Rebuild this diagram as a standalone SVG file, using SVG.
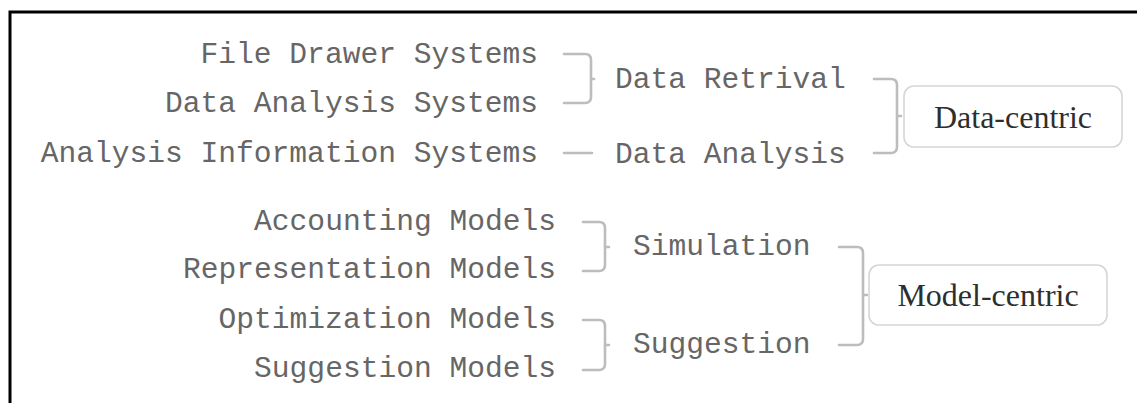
<svg xmlns="http://www.w3.org/2000/svg" width="1137" height="403" viewBox="0 0 1137 403">
  <defs>
    <style>
      .mono { font-family: "Liberation Mono", "Courier New", monospace; font-size: 29.6px; fill: #666; }
      .end { text-anchor: end; }
      .hub { font-family: "Liberation Serif", "Times New Roman", serif; font-size: 32px; fill: #2e2e2e; text-anchor: middle; }
      .box { fill: #fff; stroke: #d6d6d6; stroke-width: 1.6; }
      .brace { fill: none; stroke: #bdbdbd; stroke-width: 2.6; stroke-linecap: round; stroke-linejoin: round; }
      .frame { fill: none; stroke: #000; stroke-width: 3; }
    </style>
  </defs>

  <rect x="0" y="0" width="1137" height="403" fill="#fff"/>
  <!-- open frame: top and left edges only -->
  <path class="frame" d="M10,403 V12 H1137"/>

  <!-- connectors -->
  <g id="connectors">
    <!-- File Drawer / Data Analysis Systems -> Data Retrival -->
    <path class="brace" d="M564,54 H585 Q591,54 591,60 V97 Q591,103 585,103 H564 M591,79 H594"/>
    <!-- Analysis Information Systems -> Data Analysis -->
    <path class="brace" d="M564,153 H592"/>
    <!-- Data Retrival / Data Analysis -> Data-centric -->
    <path class="brace" d="M874,79 H891 Q897,79 897,85 V147 Q897,153 891,153 H874 M897,116 H901"/>
    <!-- Accounting / Representation Models -> Simulation -->
    <path class="brace" d="M583,222 H599 Q605,222 605,228 V265 Q605,271 599,271 H583 M605,247 H609"/>
    <!-- Optimization / Suggestion Models -> Suggestion -->
    <path class="brace" d="M583,320 H599 Q605,320 605,326 V364 Q605,370 599,370 H583 M605,345 H609"/>
    <!-- Simulation / Suggestion -> Model-centric -->
    <path class="brace" d="M839,247 H857 Q863,247 863,253 V339 Q863,345 857,345 H839 M863,295 H867"/>
  </g>

  <!-- data-centric branch -->
  <g id="file-drawer-systems"><text class="mono end" x="538" y="63">File Drawer Systems</text></g>
  <g id="data-analysis-systems"><text class="mono end" x="538" y="112">Data Analysis Systems</text></g>
  <g id="analysis-information-systems"><text class="mono end" x="538" y="162">Analysis Information Systems</text></g>
  <g id="data-retrival"><text class="mono" x="615" y="88">Data Retrival</text></g>
  <g id="data-analysis"><text class="mono" x="615" y="163">Data Analysis</text></g>
  <g id="data-centric">
    <rect class="box" x="904" y="86" width="218" height="61" rx="10"/>
    <text class="hub" x="1013" y="128">Data-centric</text>
  </g>

  <!-- model-centric branch -->
  <g id="accounting-models"><text class="mono end" x="556" y="230">Accounting Models</text></g>
  <g id="representation-models"><text class="mono end" x="556" y="278">Representation Models</text></g>
  <g id="optimization-models"><text class="mono end" x="556" y="328">Optimization Models</text></g>
  <g id="suggestion-models"><text class="mono end" x="556" y="377">Suggestion Models</text></g>
  <g id="simulation"><text class="mono" x="633" y="255">Simulation</text></g>
  <g id="suggestion"><text class="mono" x="633" y="353">Suggestion</text></g>
  <g id="model-centric">
    <rect class="box" x="869" y="265" width="238" height="60" rx="10"/>
    <text class="hub" x="988" y="306">Model-centric</text>
  </g>
</svg>
